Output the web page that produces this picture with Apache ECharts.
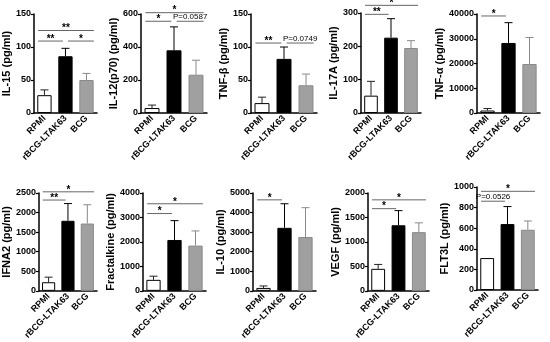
<!DOCTYPE html>
<html><head><meta charset="utf-8">
<script src="https://cdn.jsdelivr.net/npm/echarts@6/dist/echarts.min.js"></script>
<style>html,body{margin:0;padding:0;background:#fff}#c{width:550px;height:342px}</style>
</head><body><div id="c"></div>
<script>
const categories = ['RPMI', 'rBCG-LTAK63', 'BCG'];
const panelNames = ['IL-15 (pg/ml)', 'IL-12(p70) (pg/ml)', 'TNF-β (pg/ml)', 'IL-17A (pg/ml)', 'TNF-α (pg/ml)',
  'IFNA2 (pg/ml)', 'Fractalkine (pg/ml)', 'IL-10 (pg/ml)', 'VEGF (pg/ml)', 'FLT3L (pg/ml)'];
const yMax = [150, 600, 150, 300, 40000, 2500, 4000, 5000, 2000, 1000];
const yStep = [50, 200, 50, 100, 10000, 500, 1000, 1000, 500, 200];

// bar means and upper error-bar ends
const il15Mean = [27, 86, 50], il15Upper = [35, 98, 60];
const il12Mean = [30, 380, 232], il12Upper = [48, 522, 320];
const tnfbMean = [15, 82, 42], tnfbUpper = [24, 100, 59];
const il17Mean = [52, 226, 195], il17Upper = [95, 283, 217];
const tnfaMean = [1000, 28300, 19800], tnfaUpper = [1800, 36500, 30500];
const ifnaMean = [220, 1790, 1720], ifnaUpper = [350, 2230, 2200];
const fracMean = [450, 2080, 1850], fracUpper = [600, 2870, 2450];
const il10Mean = [150, 3220, 2750], il10Upper = [250, 4450, 4250];
const vegfMean = [450, 1340, 1200], vegfUpper = [540, 1640, 1390];
const flt3Mean = [310, 640, 585], flt3Upper = [310, 810, 670];

// significance brackets: [fromIndex, toIndex, yLevel] and labels
const il15Sig = [[0, 2, 125], [0, 1, 109], [1, 2, 109]], il15SigText = ['**', '**', '*'];
const il12Sig = [[0, 2, 608], [0, 1, 556], [1, 2, 556]], il12SigText = ['*', '*', 'P=0.0587'];
const tnfbSig = [[0, 1, 106], [1, 2, 106]], tnfbSigText = ['**', 'P=0.0749'];
const il17Sig = [[0, 2, 323], [0, 1, 296]], il17SigText = ['*', '**'];
const tnfaSig = [[0, 1, 39200]], tnfaSigText = ['*'];
const ifnaSig = [[0, 2, 2530], [0, 1, 2320]], ifnaSigText = ['*', '**'];
const fracSig = [[0, 2, 3560], [0, 1, 3160]], fracSigText = ['*', '*'];
const il10Sig = [[0, 1, 4650]], il10SigText = ['*'];
const vegfSig = [[0, 2, 1860], [0, 1, 1680]], vegfSigText = ['*', '*'];
const flt3Sig = [[0, 2, 958], [0, 1, 862]], flt3SigText = ['*', 'P=0.0526'];

const means = [il15Mean, il12Mean, tnfbMean, il17Mean, tnfaMean, ifnaMean, fracMean, il10Mean, vegfMean, flt3Mean];
const uppers = [il15Upper, il12Upper, tnfbUpper, il17Upper, tnfaUpper, ifnaUpper, fracUpper, il10Upper, vegfUpper, flt3Upper];
const sigs = [il15Sig, il12Sig, tnfbSig, il17Sig, tnfaSig, ifnaSig, fracSig, il10Sig, vegfSig, flt3Sig];
const sigTexts = [il15SigText, il12SigText, tnfbSigText, il17SigText, tnfaSigText, ifnaSigText, fracSigText, il10SigText, vegfSigText, flt3SigText];

// layout
const gridBoxes = [
  [31, 14, 66, 99], [141, 14, 66, 99], [251, 14, 66, 99], [361, 13, 60, 100], [477, 14, 63, 99],
  [35, 193, 62, 100], [143, 193, 63, 100], [253, 193, 63, 100], [368, 193, 61, 100], [477, 187, 61, 103]
];
const nameGaps = [15, 18, 19, 19, 26, 23, 23, 23, 24, 24];
const FONT = 'Liberation Sans, Arial, sans-serif';
const barStyles = [
  {color: '#ffffff', borderColor: '#000', borderWidth: 1},
  {color: '#000000', borderColor: '#000', borderWidth: 1},
  {color: '#a0a0a0', borderColor: '#8a8a8a', borderWidth: 1}
];
const whiskerColors = ['#222', '#000', '#8a8a8a'];

const grid = [], xAxis = [], yAxis = [], series = [];
for (let i = 0; i < 10; i++) {
  const g = gridBoxes[i];
  grid.push({left: g[0], top: g[1], width: g[2], height: g[3]});
  xAxis.push({
    type: 'category', gridIndex: i, data: categories,
    axisLine: {lineStyle: {color: '#000', width: 1.5}},
    axisTick: {alignWithLabel: true, length: 3, lineStyle: {color: '#000', width: 1.2}},
    axisLabel: {rotate: 45, fontSize: 9, fontWeight: 'bold', color: '#000', margin: 4, fontFamily: FONT, interval: 0}
  });
  yAxis.push({
    type: 'value', gridIndex: i, min: 0, max: yMax[i], interval: yStep[i],
    name: panelNames[i], nameLocation: 'middle', nameGap: nameGaps[i],
    nameTextStyle: {fontSize: 11, fontWeight: 'bold', color: '#000', fontFamily: FONT},
    axisLine: {show: true, lineStyle: {color: '#000', width: 1.5}},
    axisTick: {show: true, length: 3, lineStyle: {color: '#000', width: 1.2}},
    splitLine: {show: false},
    axisLabel: {fontSize: 9, fontWeight: 'bold', color: '#000', margin: 3, fontFamily: FONT,
      formatter: function (v) { return String(v); }}
  });
  series.push({
    type: 'bar', xAxisIndex: i, yAxisIndex: i, barWidth: '68%', silent: true,
    data: means[i].map((v, k) => ({value: v, itemStyle: barStyles[k]}))
  });
  series.push({
    type: 'custom', xAxisIndex: i, yAxisIndex: i, silent: true, z: 5,
    data: means[i].map((v, k) => [k, v, uppers[i][k]]),
    renderItem: function (params, api) {
      const k = api.value(0), m = api.value(1), u = api.value(2);
      if (u <= m) return null;
      const p0 = api.coord([k, m]), p1 = api.coord([k, u]);
      const st = {stroke: whiskerColors[k], lineWidth: 1};
      return {type: 'group', children: [
        {type: 'line', shape: {x1: p0[0], y1: p0[1], x2: p1[0], y2: p1[1]}, style: st},
        {type: 'line', shape: {x1: p1[0] - 4, y1: p1[1], x2: p1[0] + 4, y2: p1[1]}, style: st}
      ]};
    }
  });
  const texts = sigTexts[i];
  series.push({
    type: 'custom', xAxisIndex: i, yAxisIndex: i, silent: true, z: 6, clip: false,
    data: sigs[i],
    renderItem: function (params, api) {
      const a = api.value(0), b = api.value(1), y = api.value(2);
      const band = api.size([1, 0])[0];
      const pa = api.coord([a, y]), pb = api.coord([b, y]);
      const x1 = pa[0] + (a === 0 ? -0.3 : 0.12) * band;
      const x2 = pb[0] + (b === 2 ? 0.35 : -0.12) * band;
      const t = texts[params.dataIndex];
      const isP = t.charAt(0) === 'P';
      return {type: 'group', children: [
        {type: 'line', shape: {x1: x1, y1: pa[1], x2: x2, y2: pa[1]}, style: {stroke: '#666', lineWidth: 1}},
        {type: 'text', x: (x1 + x2) / 2, y: pa[1] + (isP ? -0.5 : 3),
          style: {text: t, fill: '#000', align: 'center', verticalAlign: 'bottom',
            font: (isP ? 'normal 8px ' : 'bold 10px ') + FONT}}
      ]};
    }
  });
}

const chart = echarts.init(document.getElementById('c'), null, {renderer: 'canvas'});
chart.setOption({animation: false, backgroundColor: '#fff', grid, xAxis, yAxis, series});
</script></body></html>
